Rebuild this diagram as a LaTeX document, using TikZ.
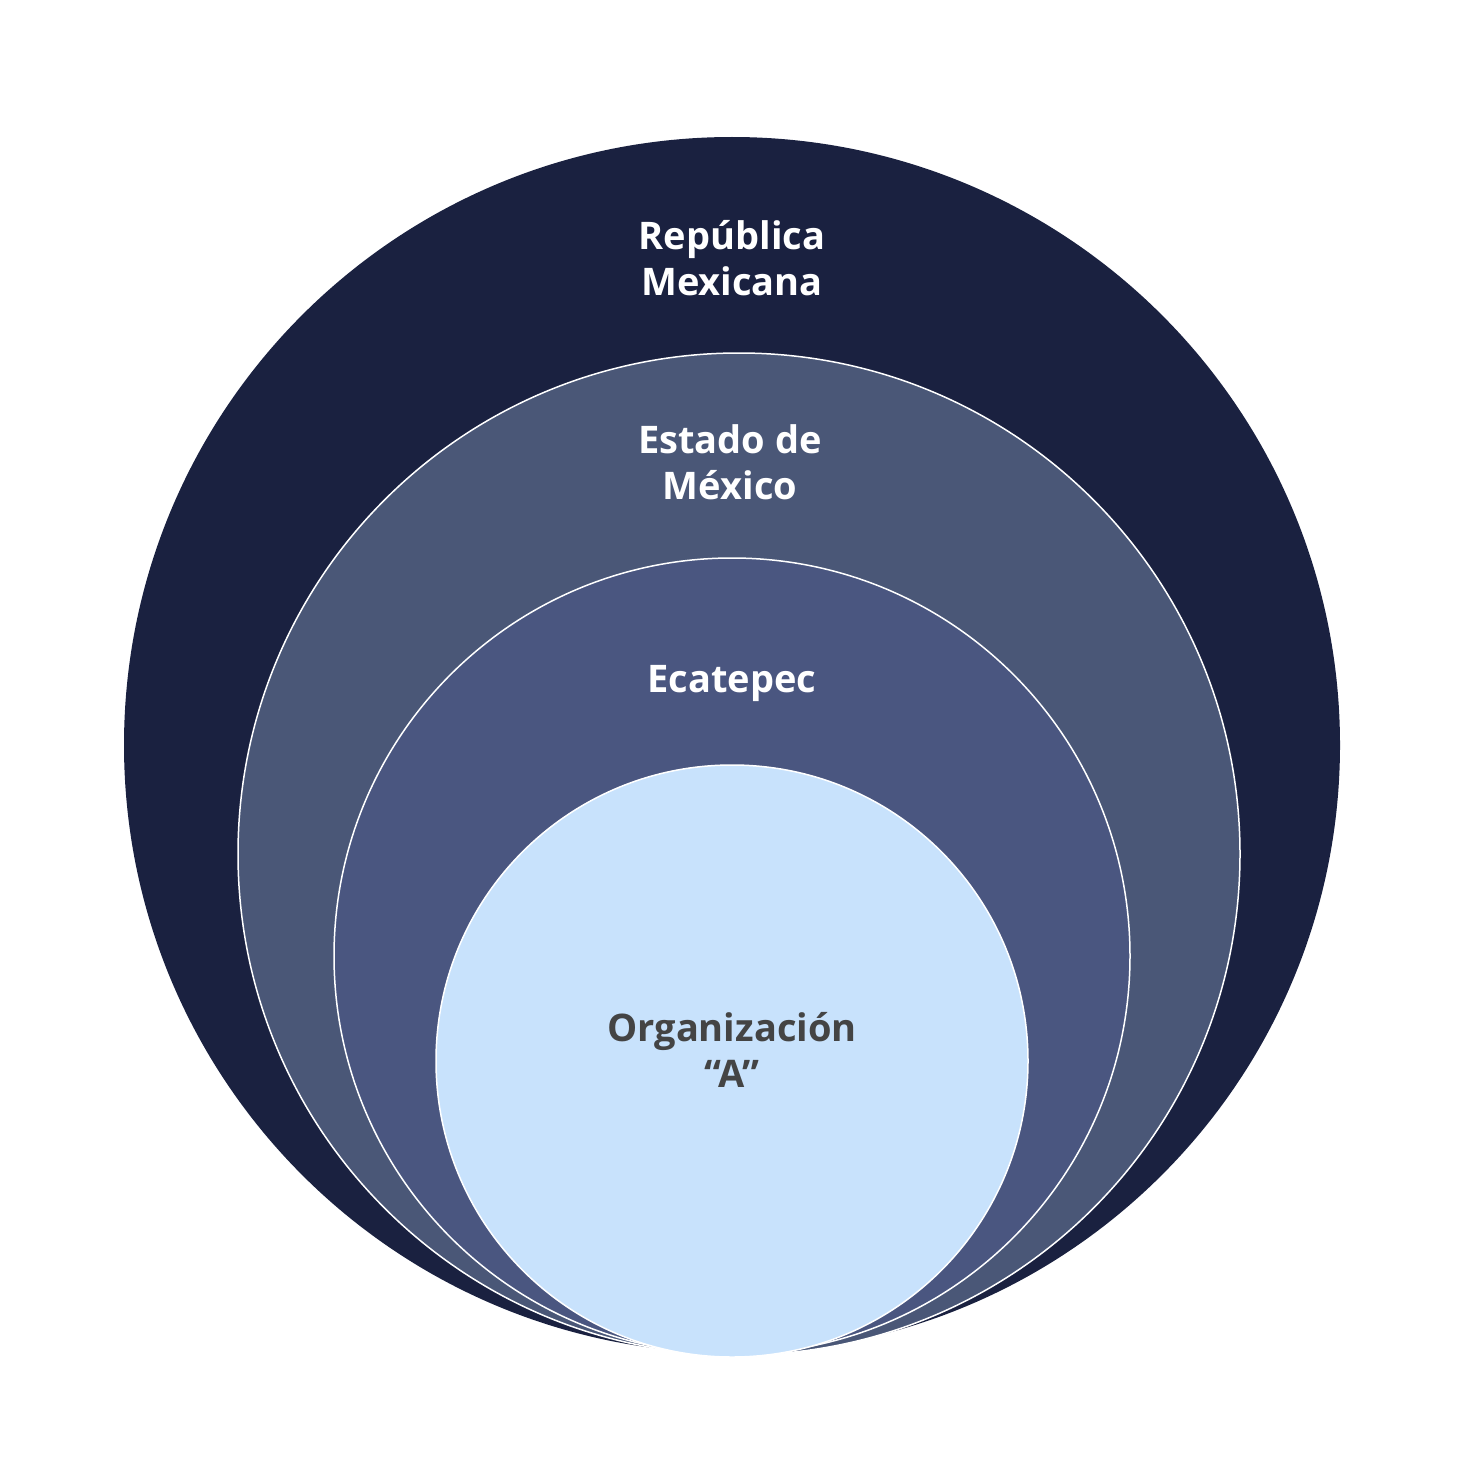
\documentclass[tikz,border=0pt]{standalone}
\usepackage{fontspec}
\setmainfont{Open Sans}
\definecolor{c1}{HTML}{1A2140}
\definecolor{c2}{HTML}{4A5777}
\definecolor{c3}{HTML}{4A5680}
\definecolor{c4}{HTML}{C8E2FC}
\definecolor{tx}{HTML}{444444}
\tikzset{lab/.style={align=center,font=\fontsize{38}{46}\selectfont\fontseries{sb}\selectfont}}
\begin{document}
\begin{tikzpicture}[x=1pt,y=-1pt]
\useasboundingbox (0,0) rectangle (1456,1482);
\fill[c1] (732,745) circle (608);
\filldraw[fill=c2,draw=white,line width=1.5] (739,854) circle (501);
\filldraw[fill=c3,draw=white,line width=1.5] (732,956) circle (398);
\filldraw[fill=c4,draw=white,line width=1.5] (732,1061) circle (296);
\node[lab,text=white] (r) at (732,258) {República\\Mexicana};
\node[lab,text=white] (e) at (730,462) {Estado de\\México};
\node[lab,text=white] (k) at (732,683) {Ecatepec};
\node[lab,text=tx] (o) at (732,1050) {Organización\\“A”};
\end{tikzpicture}
\end{document}
